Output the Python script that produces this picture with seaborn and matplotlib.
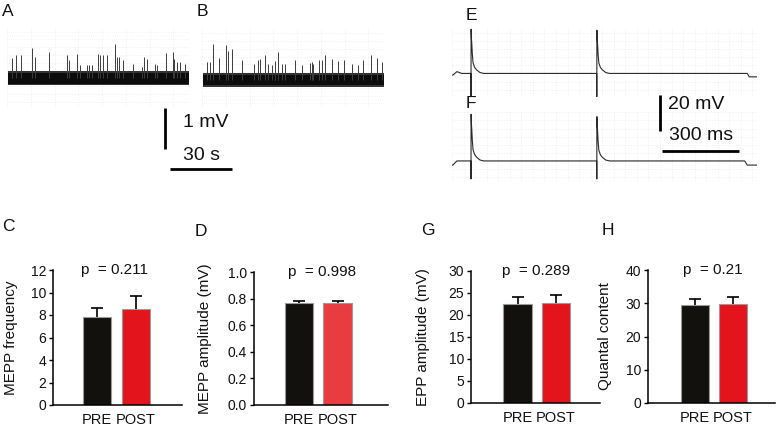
"""
Neuromuscular junction recordings: MEPP / EPP traces and summary bars.
"""
import matplotlib
matplotlib.use("Agg")
import matplotlib.pyplot as plt
import seaborn as sns
import numpy as np
from matplotlib.ticker import MultipleLocator

sns.set_theme(style="white")
plt.rcParams["font.family"] = ["Liberation Sans", "DejaVu Sans"]

# ---- spontaneous MEPP traces (A = pre, B = post): spike time (s), amplitude (mV)
mepp_pre_t = [2.3, 4.4, 6.6, 11.9, 13.5, 20.5, 29.2, 30.2, 33.7, 35.3, 38.9,
              39.8, 41.0, 44.2, 45.0, 46.6, 48.5, 52.3, 53.1, 54.4, 56.3, 61.1,
              65.2, 66.3, 67.6, 71.6, 72.7, 77.0, 80.2, 80.8, 82.4, 83.7, 86.1]
mepp_pre_amp = [0.50, 0.56, 0.56, 0.74, 0.52, 0.63, 0.56, 0.44, 0.60, 0.32,
                0.32, 0.32, 0.32, 0.60, 0.56, 0.56, 0.56, 0.83, 0.52, 0.52,
                0.45, 0.36, 0.28, 0.52, 0.48, 0.36, 0.32, 0.61, 0.63, 0.48,
                0.40, 0.40, 0.36]
mepp_post_t = [2.3, 3.9, 5.5, 8.2, 11.6, 12.7, 14.4, 19.2, 25.3, 27.3, 28.1,
               30.5, 32.1, 34.0, 35.3, 36.9, 38.5, 40.2, 45.0, 48.2, 52.3, 53.1,
               53.9, 56.6, 58.2, 59.5, 62.7, 65.6, 68.9, 72.4, 75.6, 78.1, 81.6,
               84.5, 86.9]
mepp_post_amp = [0.44, 0.44, 0.87, 0.54, 0.85, 0.71, 0.75, 0.48, 0.40, 0.49,
                 0.52, 0.62, 0.40, 0.36, 0.46, 0.67, 0.40, 0.40, 0.49, 0.36,
                 0.41, 0.44, 0.38, 0.49, 0.49, 0.60, 0.52, 0.46, 0.48, 0.40,
                 0.36, 0.49, 0.60, 0.54, 0.44]
MEPP_NOISE = 0.13  # half-width of the dense baseline noise band (mV)
MEPP_NOISE_EDGE = 0.17  # outer, sparser part of the noise band (mV)

# ---- evoked EPP traces (E = pre, F = post), times in ms, voltage in mV
epp_shape_t = [0, 0.4, 1.5, 3, 5, 8, 14, 22, 35, 50]
epp_shape_frac = [0, 1.0, 0.8, 0.68, 0.45, 0.24, 0.14, 0.08, 0.02, 0]
stim_ms = [74, 564]
epp_pre_peak = [24.6, 24.0]
epp_pre_artifact = [-13.0, -13.0]
epp_post_peak = [25.9, 24.6]
epp_post_artifact = [-10.0, -10.0]
base_pre_t = [0, 4, 19, 38, 1150, 1158, 1188]
base_pre_v = [-0.9, -0.9, 1.0, 0.0, 0.0, -1.9, -1.9]
base_post_t = [0, 3, 19, 40, 1140, 1150, 1188]
base_post_v = [-2.3, -2.3, 0.0, 0.0, 0.0, -2.3, -2.3]

# ---- summary bars
groups = ["PRE", "POST"]
mepp_freq = [7.85, 8.5]
mepp_freq_sem = [0.75, 1.2]
mepp_amp = [0.77, 0.77]
mepp_amp_sem = [0.015, 0.015]
epp_amp = [22.5, 22.8]
epp_amp_sem = [1.7, 1.7]
quantal = [29.5, 29.7]
quantal_sem = [1.9, 2.3]

BLACK = "#12110d"
RED = "#E3141C"
RED_LIGHT = "#E83C41"
TRACE = "#2a2a2a"

W, H = 780, 429
fig = plt.figure(figsize=(W / 100, H / 100), dpi=100)
fig.patch.set_facecolor("white")


def px_axes(x0, y0, x1, y1):
    return fig.add_axes([x0 / W, 1 - y1 / H, (x1 - x0) / W, (y1 - y0) / H])


def paper_grid(ax, xstep, ystep):
    ax.xaxis.set_major_locator(MultipleLocator(xstep))
    ax.yaxis.set_major_locator(MultipleLocator(ystep))
    ax.tick_params(length=0, labelbottom=False, labelleft=False)
    ax.grid(True, color="#e9e9e9", lw=0.5, ls=":")
    for s in ax.spines.values():
        s.set_visible(False)
    ax.set_facecolor("none")


def mepp_panel(ax, t, amp, ylim):
    paper_grid(ax, 11.5, 0.19)
    ax.set_xlim(0, 88.5)
    ax.set_ylim(*ylim)
    ax.fill_between([0.3, 88.2], -MEPP_NOISE_EDGE, MEPP_NOISE_EDGE,
                    color="#333333", lw=0)
    ax.fill_between([0.3, 88.2], -MEPP_NOISE, MEPP_NOISE, color="#0c0c0c", lw=0)
    ax.vlines(t, 0, amp, color="#3c3c3c", lw=0.7)


def epp_trace(base_t, base_v, peaks, artifacts):
    t = list(base_t)
    v = list(base_v)
    for s, pk, art in zip(stim_ms, peaks, artifacts):
        t += [s - 0.3, s]
        v += [np.interp(s - 0.3, base_t, base_v), art]
        for dt, f in zip(epp_shape_t[1:], epp_shape_frac[1:]):
            t.append(s + dt)
            v.append(np.interp(s + dt, base_t, base_v) + pk * f)
    order = np.argsort(t, kind="stable")
    t = np.asarray(t)[order]
    v = np.asarray(v)[order]
    # baseline points that fall inside an EPP are dropped
    keep = np.ones(len(t), bool)
    for s in stim_ms:
        inside = (t > s - 0.3) & (t < s + epp_shape_t[-1])
        base_pts = np.isin(t, base_t)
        keep &= ~(inside & base_pts)
    return t[keep], v[keep]


def epp_panel(ax, base_t, base_v, peaks, artifacts, ylim):
    paper_grid(ax, 45, 4.5)
    ax.set_xlim(0, 1188)
    ax.set_ylim(*ylim)
    t, v = epp_trace(base_t, base_v, peaks, artifacts)
    ax.plot(t, v, color=TRACE, lw=0.8)


def bar_panel(ax, means, sems, colors, ymax, ystep, xlim, ylabel, ptext, px,
              label_x, fmt=None):
    sns.barplot(x=groups, y=means, hue=groups, palette=colors, width=0.74,
                saturation=1, edgecolor="#9a9a9a", linewidth=0.8, legend=False,
                ax=ax)
    eb = ax.errorbar([0, 1], means, yerr=[[0, 0], sems], fmt="none",
                     ecolor="black", elinewidth=1.2, capsize=4, capthick=1.2)
    eb[1][0].set_visible(False)
    ax.set_xlim(*xlim)
    ax.set_ylim(0, ymax)
    ax.yaxis.set_major_locator(MultipleLocator(ystep))
    if fmt:
        ax.yaxis.set_major_formatter(plt.FormatStrFormatter(fmt))
    for s in ["top", "right"]:
        ax.spines[s].set_visible(False)
    for s in ["left", "bottom"]:
        ax.spines[s].set_color("black")
        ax.spines[s].set_linewidth(1.1)
    ax.tick_params(axis="y", direction="out", length=3, width=1, color="black",
                   labelsize=10, pad=2, left=True, labelcolor="#111")
    ax.tick_params(axis="x", length=0, labelsize=10.5, pad=6, labelcolor="#111")
    ax.set_xlabel("")
    ax.set_ylabel(ylabel, fontsize=11, color="#111")
    ax.yaxis.set_label_coords(label_x, 0.5)
    ax.text(px, ymax, ptext, ha="center", va="center", fontsize=11, color="#111")
    ax.set_facecolor("none")


# traces
ax_a = px_axes(7, 27, 190, 108)
mepp_panel(ax_a, mepp_pre_t, mepp_pre_amp, (-0.72, 1.25))
ax_b = px_axes(202, 27, 385, 108)
mepp_panel(ax_b, mepp_post_t, mepp_post_amp, (-0.68, 1.29))

# scale bar for A/B (1 mV, 30 s)
ax_a.plot([76.4, 76.4], [-0.72, -1.72], color="black", lw=2, clip_on=False,
          solid_capstyle="butt")
ax_a.plot([78.9, 108.9], [-2.21, -2.21], color="black", lw=2, clip_on=False,
          solid_capstyle="butt")
ax_a.text(85.1, -1.07, "1 mV", fontsize=14, va="center", ha="left", color="#111")
ax_a.text(85.1, -1.87, "30 s", fontsize=14, va="center", ha="left", color="#111")

ax_e = px_axes(452, 27, 757, 97)
epp_panel(ax_e, base_pre_t, base_pre_v, epp_pre_peak, epp_pre_artifact,
          (-13.1, 25.8))
ax_f = px_axes(452, 110, 757, 182)
epp_panel(ax_f, base_post_t, base_post_v, epp_post_peak, epp_post_artifact,
          (-11.7, 28.3))

# scale bar for E/F (20 mV, 300 ms)
ax_f.plot([810, 810], [36.5, 16.5], color="black", lw=2, clip_on=False,
          solid_capstyle="butt")
ax_f.plot([818, 1118], [5.6, 5.6], color="black", lw=2, clip_on=False,
          solid_capstyle="butt")
ax_f.text(841, 31.1, "20 mV", fontsize=14, va="center", ha="left", color="#111")
ax_f.text(845, 14.4, "300 ms", fontsize=14, va="center", ha="left", color="#111")

# bar charts
ax_c = px_axes(53, 270, 182, 405)
bar_panel(ax_c, mepp_freq, mepp_freq_sem, [BLACK, RED], 12, 2, (-1.13, 2.18),
          "MEPP frequency", "p  = 0.211", 0.45, -0.27)
ax_d = px_axes(254, 272, 388, 405)
bar_panel(ax_d, mepp_amp, mepp_amp_sem, [BLACK, RED_LIGHT], 1.0, 0.2,
          (-1.17, 2.31), "MEPP amplitude (mV)", "p  = 0.998", 0.61, -0.31,
          fmt="%.1f")
ax_g = px_axes(471, 271, 600, 403)
bar_panel(ax_g, epp_amp, epp_amp_sem, [BLACK, RED], 30, 5, (-1.21, 2.14),
          "EPP amplitude (mV)", "p  = 0.289", 0.48, -0.32)
ax_h = px_axes(648, 270, 775, 403)
bar_panel(ax_h, quantal, quantal_sem, [BLACK, RED], 40, 10, (-1.24, 2.1),
          "Quantal content", "p  = 0.21", 0.47, -0.28)

# panel letters
for letter, x, y in [("A", 2, 11), ("B", 197, 11), ("E", 466, 15),
                     ("F", 466, 103), ("C", 2, 227), ("D", 195, 231),
                     ("G", 421, 230), ("H", 602, 230)]:
    fig.text(x / W, 1 - y / H, letter, fontsize=12.5, va="center", ha="left",
             color="#111")

fig.savefig("out.png", dpi=100, facecolor="white")
